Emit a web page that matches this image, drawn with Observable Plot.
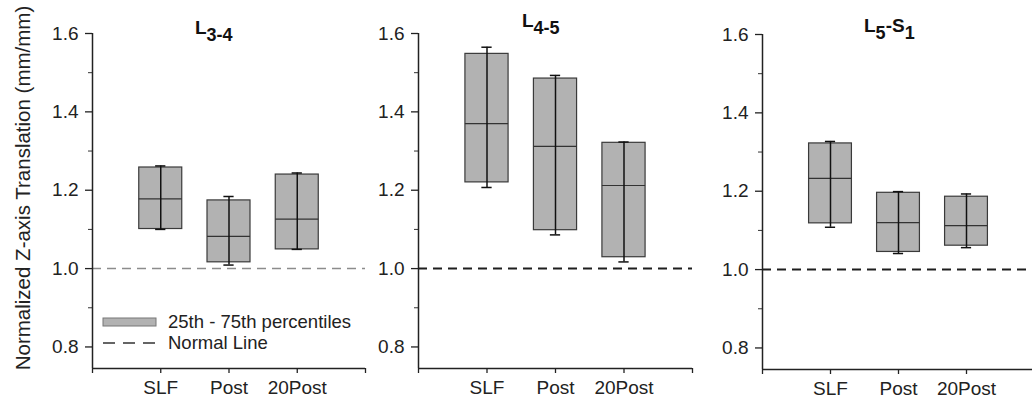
<!DOCTYPE html>
<html>
<head>
<meta charset="utf-8">
<script src="https://cdn.jsdelivr.net/npm/d3@7"></script>
<script src="https://cdn.jsdelivr.net/npm/@observablehq/plot@0.6"></script>
<style>
  html, body { margin: 0; padding: 0; background: #fff; }
  #wrap { position: relative; width: 1032px; height: 407px; overflow: hidden; font-family: "Liberation Sans", Arial, sans-serif; }
  #wrap svg { position: absolute; top: 0; }
</style>
</head>
<body>
<div id="wrap"></div>
<script>
// ---- data ----
const categories = ["SLF", "Post", "20Post"];
const panelTitles = ["L3-4", "L4-5", "L5-S1"];
const yTicks = [0.8, 1.0, 1.2, 1.4, 1.6];
const yMinorTicks = [0.9, 1.1, 1.3, 1.5];
const normalLine = 1.0;
// one inner array per panel, values in category order
const q1          = [[1.101, 1.016, 1.049], [1.220, 1.098, 1.029], [1.118, 1.045, 1.061]];
const median      = [[1.178, 1.082, 1.126], [1.370, 1.312, 1.212], [1.233, 1.120, 1.112]];
const q3          = [[1.258, 1.174, 1.240], [1.548, 1.485, 1.321], [1.322, 1.196, 1.186]];
const whiskerLow  = [[1.100, 1.009, 1.049], [1.207, 1.086, 1.017], [1.108, 1.041, 1.056]];
const whiskerHigh = [[1.262, 1.184, 1.244], [1.565, 1.493, 1.323], [1.327, 1.199, 1.193]];
const legendLabels = ["25th - 75th percentiles", "Normal Line"];
const yLabel = "Normalized Z-axis Translation (mm/mm)";

// ---- layout ----
const FONT = "'Liberation Sans', Arial, sans-serif";
const yMin = 0.745, yMax = 1.6;
const layout = [
  {left: 0,   width: 372, ml: 92, mr: 7,  mt: 33, mb: 39, dash: "#8c8c8c", dashW: 1.5, tx: 195, ty: 34},
  {left: 372, width: 330, ml: 46, mr: 10, mt: 33, mb: 39, dash: "#1e1e1e", dashW: 2,   tx: 150, ty: 27},
  {left: 702, width: 330, ml: 60, mr: -2, mt: 34, mb: 38, dash: "#1e1e1e", dashW: 2,   tx: 162, ty: 32}
];
const boxHalf = 0.315, capHalf = 0.075;
const wrap = document.getElementById("wrap");

panelTitles.forEach((title, p) => {
  const L = layout[p];
  const rows = categories.map((c, k) => ({
    i: k + 1, cat: c, q1: q1[p][k], med: median[p][k], q3: q3[p][k],
    lo: whiskerLow[p][k], hi: whiskerHigh[p][k]
  }));
  const svg = Plot.plot({
    width: L.width, height: 407,
    marginLeft: L.ml, marginRight: L.mr, marginTop: L.mt, marginBottom: L.mb,
    x: {domain: [0, 4], label: null},
    y: {domain: [yMin, yMax], label: null},
    style: {fontFamily: FONT, fontSize: "19px", color: "#222", background: "transparent"},
    marks: [
      Plot.ruleY([normalLine], {stroke: L.dash, strokeWidth: L.dashW, strokeDasharray: "9,6"}),
      Plot.rect(rows, {x1: d => d.i - boxHalf, x2: d => d.i + boxHalf, y1: "q1", y2: "q3",
        fill: "#b2b2b2", stroke: "#3a3a3a", strokeWidth: 1.2}),
      Plot.ruleY(rows, {y: "med", x1: d => d.i - boxHalf, x2: d => d.i + boxHalf, stroke: "#333", strokeWidth: 1.2}),
      Plot.ruleX(rows, {x: "i", y1: "lo", y2: "hi", stroke: "#111", strokeWidth: 1.5}),
      Plot.ruleY(rows, {y: "hi", x1: d => d.i - capHalf, x2: d => d.i + capHalf, stroke: "#111", strokeWidth: 1.5}),
      Plot.ruleY(rows, {y: "lo", x1: d => d.i - capHalf, x2: d => d.i + capHalf, stroke: "#111", strokeWidth: 1.5}),
      Plot.axisY({ticks: yTicks, tickSize: 7, tickPadding: 7, tickFormat: d3.format(".1f"),
        fontSize: 19, stroke: "#222", strokeWidth: 1.3, label: null}),
      Plot.axisY({ticks: yMinorTicks, tickSize: 4, tickFormat: () => "", stroke: "#333", label: null}),
      Plot.axisX({ticks: [0, 1, 2, 3, 4], tickSize: 5, tickPadding: 7,
        tickFormat: i => categories[i - 1] ?? "", fontSize: 19, stroke: "#222", strokeWidth: 1.3, label: null}),
      Plot.ruleX([0], {stroke: "#222", strokeWidth: 1.5}),
      Plot.ruleY([yMin], {stroke: "#222", strokeWidth: 1.5})
    ]
  });
  svg.style.left = L.left + "px";
  const s = d3.select(svg);

  // panel title with subscripts
  const t = s.append("text").attr("x", L.tx).attr("y", L.ty).attr("text-anchor", "start")
    .attr("font-family", FONT).attr("font-weight", "bold").attr("font-size", 19).attr("fill", "#111");
  const m = title.match(/^L(\d-\d)$/);
  if (m) {
    t.append("tspan").text("L");
    t.append("tspan").attr("dy", 7).attr("font-size", 18).text(m[1]);
  } else {
    const parts = title.match(/^L(\d)-S(\d)$/);
    t.append("tspan").text("L");
    t.append("tspan").attr("dy", 7).attr("font-size", 18).text(parts[1]);
    t.append("tspan").attr("dy", -7).text("-S");
    t.append("tspan").attr("dy", 7).attr("font-size", 18).text(parts[2]);
  }

  if (p === 0) {
    // y-axis label
    s.append("text").attr("transform", "translate(30,188) rotate(-90)")
      .attr("text-anchor", "middle").attr("font-family", FONT).attr("font-size", 20.5)
      .attr("fill", "#222").text(yLabel);
    // legend
    const g = s.append("g").attr("font-family", FONT).attr("font-size", 18.5).attr("fill", "#222")
      .attr("text-anchor", "start");
    g.append("rect").attr("x", 103).attr("y", 318).attr("width", 53).attr("height", 8)
      .attr("fill", "#b2b2b2").attr("stroke", "#777").attr("stroke-width", 1);
    g.append("line").attr("x1", 103).attr("x2", 156).attr("y1", 343).attr("y2", 343)
      .attr("stroke", "#333").attr("stroke-width", 1.3).attr("stroke-dasharray", "12,8");
    g.append("text").attr("x", 168).attr("y", 322).attr("dy", "0.35em").text(legendLabels[0]);
    g.append("text").attr("x", 168).attr("y", 343).attr("dy", "0.35em").text(legendLabels[1]);
  }
  wrap.appendChild(svg);
});
</script>
</body>
</html>
